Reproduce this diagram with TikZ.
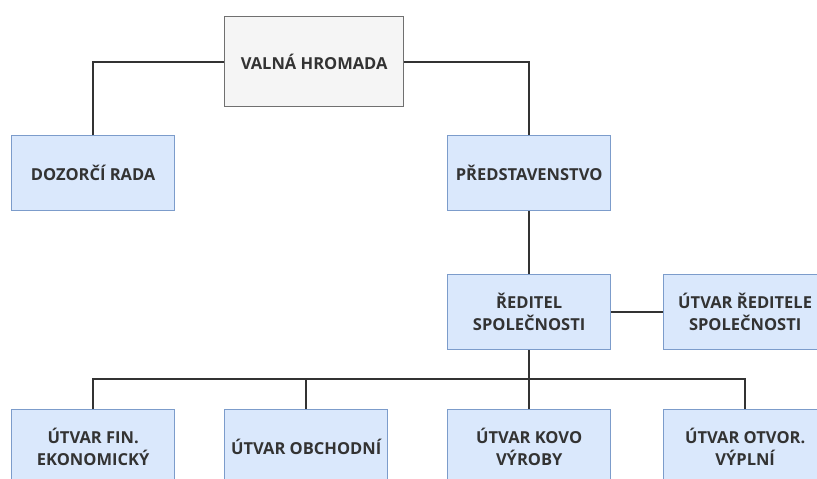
\documentclass[tikz,border=0pt]{standalone}
\usepackage{fontspec}
\setmainfont{Open Sans}
\begin{document}
\begin{tikzpicture}[x=1pt,y=-1pt,
  box/.style={draw=blueborder,fill=bluefill,line width=1.3pt,minimum width=163pt,minimum height=75pt,
    anchor=north west,inner sep=0pt,align=center,font=\fontsize{16.5}{22}\selectfont\bfseries,text=textc},
  graybox/.style={box,draw=grayborder,fill=grayfill,minimum width=179pt,minimum height=90pt},
  conn/.style={draw=linec,line width=1.8pt}]
\definecolor{bluefill}{HTML}{DAE8FC}
\definecolor{blueborder}{HTML}{7C9CCB}
\definecolor{grayfill}{HTML}{F5F5F5}
\definecolor{grayborder}{HTML}{707070}
\definecolor{linec}{HTML}{333333}
\definecolor{textc}{HTML}{333333}
\useasboundingbox (0,0) rectangle (817,479);
\clip (0,0) rectangle (817,479);
\node[graybox] (vh) at (224,16) {VALNÁ HROMADA};
\node[box] (dr) at (11,135) {DOZORČÍ RADA};
\node[box] (pr) at (447,135) {PŘEDSTAVENSTVO};
\node[box] (red) at (447,274) {ŘEDITEL\\SPOLEČNOSTI};
\node[box] (ured) at (663,274) {ÚTVAR ŘEDITELE\\SPOLEČNOSTI};
\node[box] (fin) at (11,409) {ÚTVAR FIN.\\EKONOMICKÝ};
\node[box] (obch) at (224,409) {ÚTVAR OBCHODNÍ};
\node[box] (kovo) at (447,409) {ÚTVAR KOVO\\VÝROBY};
\node[box] (otv) at (663,409) {ÚTVAR OTVOR.\\VÝPLNÍ};
\coordinate (bus) at (0,379);
\draw[conn] (vh.west) -| (dr.north);
\draw[conn] (vh.east) -| (pr.north);
\draw[conn] (pr.south) -- (red.north);
\draw[conn] (red.east) -- (ured.west);
\draw[conn] (red.south) -- (red.south |- bus);
\draw[conn] (fin.north) |- (red.south |- bus) -| (otv.north);
\draw[conn] (obch.north) -- (obch.north |- bus);
\draw[conn] (kovo.north) -- (kovo.north |- bus);
\end{tikzpicture}
\end{document}
